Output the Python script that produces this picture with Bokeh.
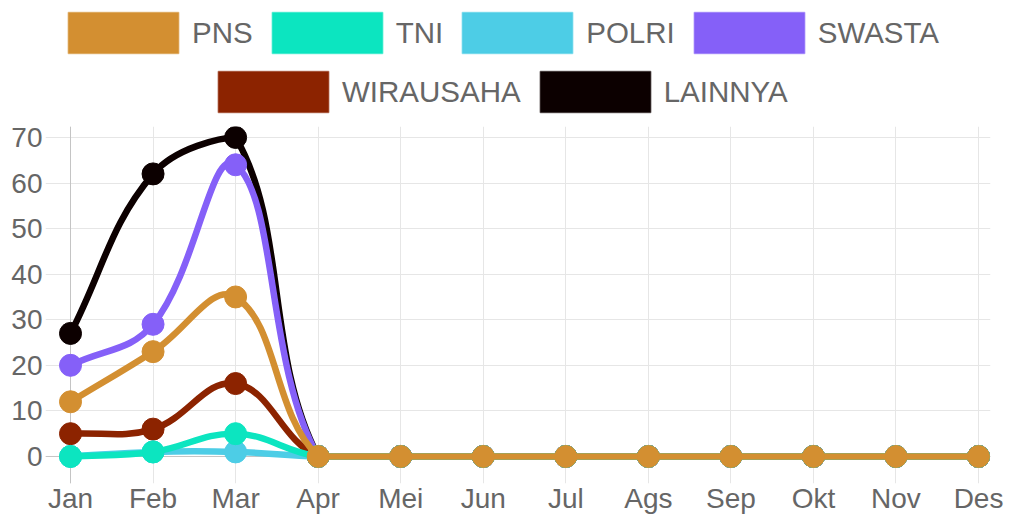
import math
from bokeh.plotting import figure
from bokeh.layouts import column
from bokeh.models import (Range1d, FixedTicker, SingleIntervalTicker, Legend,
                          LegendItem, Span)
from bokeh.embed import file_html
from bokeh.resources import INLINE

# ---------------- data ----------------
months = ["Jan", "Feb", "Mar", "Apr", "Mei", "Jun", "Jul", "Ags", "Sep", "Okt", "Nov", "Des"]
series_names = ["PNS", "TNI", "POLRI", "SWASTA", "WIRAUSAHA", "LAINNYA"]
pns = [12, 23, 35, 0, 0, 0, 0, 0, 0, 0, 0, 0]
tni = [0, 1, 5, 0, 0, 0, 0, 0, 0, 0, 0, 0]
polri = [0, 1, 1, 0, 0, 0, 0, 0, 0, 0, 0, 0]
swasta = [20, 29, 64, 0, 0, 0, 0, 0, 0, 0, 0, 0]
wirausaha = [5, 6, 16, 0, 0, 0, 0, 0, 0, 0, 0, 0]
lainnya = [27, 62, 70, 0, 0, 0, 0, 0, 0, 0, 0, 0]
colors = ["#d38f31", "#0ce5c0", "#4dcde6", "#8560f8", "#8c2300", "#0c0000"]
values = [pns, tni, polri, swasta, wirausaha, lainnya]

FONT = "Liberation Sans"
TXT = "#666666"
W, H = 1009, 520

# approximate pixel scale (for Chart.js-like spline tension)
SX, SY = 82.55, 4.553
YMIN, YMAX = 0, 70
XMIN, XMAX = 0, len(months) - 1


def spline_segments(ys, t=0.4):
    n = len(ys)
    pts = [(i * SX, y * SY) for i, y in enumerate(ys)]
    cps = []
    for i in range(n):
        prev = pts[i - 1] if i > 0 else pts[i]
        cur = pts[i]
        nxt = pts[i + 1] if i < n - 1 else pts[i]
        d01 = math.hypot(cur[0] - prev[0], cur[1] - prev[1])
        d12 = math.hypot(nxt[0] - cur[0], nxt[1] - cur[1])
        tot = d01 + d12
        s01 = d01 / tot if tot else 0
        s12 = d12 / tot if tot else 0
        fa, fb = t * s01, t * s12
        cp_prev = (cur[0] - fa * (nxt[0] - prev[0]), cur[1] - fa * (nxt[1] - prev[1]))
        cp_next = (cur[0] + fb * (nxt[0] - prev[0]), cur[1] + fb * (nxt[1] - prev[1]))

        def cap(p):
            x = min(max(p[0] / SX, XMIN), XMAX)
            y = min(max(p[1] / SY, YMIN), YMAX)
            return (x, y)
        cps.append((cap(cp_prev), cap(cp_next)))
    seg = dict(x0=[], y0=[], x1=[], y1=[], cx0=[], cy0=[], cx1=[], cy1=[])
    for i in range(n - 1):
        seg["x0"].append(i); seg["y0"].append(ys[i])
        seg["x1"].append(i + 1); seg["y1"].append(ys[i + 1])
        seg["cx0"].append(cps[i][1][0]); seg["cy0"].append(cps[i][1][1])
        seg["cx1"].append(cps[i + 1][0][0]); seg["cy1"].append(cps[i + 1][0][1])
    return seg


# ---------------- legend strip ----------------
LEG_H = 114
lf = figure(width=W, height=LEG_H, output_backend="svg", toolbar_location=None,
            x_range=Range1d(0, 1), y_range=Range1d(0, 1), min_border=0,
            x_axis_location=None, y_axis_location=None)
lf.grid.visible = False
lf.outline_line_color = None

proxies = {}
for name, col in zip(series_names, colors):
    # zero-area proxy used only for the legend swatch
    proxies[name] = lf.quad(left=[0], right=[0], top=[0], bottom=[0],
                            fill_color=col, line_color=col,
                            line_alpha=0.55, line_width=1.5)


def make_legend(names, loc):
    return Legend(items=[LegendItem(label=n, renderers=[proxies[n]]) for n in names],
                  orientation="horizontal", location=loc,
                  glyph_width=138, glyph_height=51, label_standoff=0,
                  spacing=5, padding=0, margin=0,
                  label_text_font=FONT, label_text_font_size="29.5px",
                  label_text_color=TXT, border_line_color=None,
                  background_fill_alpha=0)


# legend frame is aligned with the chart frame (left edge at x=45)
lf.add_layout(make_legend(series_names[:4], (9, LEG_H - 58)))
lf.add_layout(make_legend(series_names[4:], (159, LEG_H - 117)))

# ---------------- main chart ----------------
p = figure(width=W, height=H - LEG_H, output_backend="svg", toolbar_location=None,
           x_range=Range1d(-0.303, 11.145), y_range=Range1d(-5.93, 72.4),
           min_border_left=45, min_border_right=19, min_border_bottom=37,
           min_border_top=126 - LEG_H)
p.outline_line_color = None
p.background_fill_color = "white"

p.xgrid.grid_line_color = "#e6e6e6"
p.ygrid.grid_line_color = "#e6e6e6"
p.add_layout(Span(location=0, dimension="height", line_color="#c4c4c4", line_width=1, level="underlay"))
p.add_layout(Span(location=0, dimension="width", line_color="#c4c4c4", line_width=1, level="underlay"))

p.xaxis.ticker = FixedTicker(ticks=list(range(len(months))))
p.xaxis.major_label_overrides = {i: m for i, m in enumerate(months)}
p.yaxis.ticker = SingleIntervalTicker(interval=10, num_minor_ticks=0)
for ax in (p.xaxis, p.yaxis):
    ax.axis_line_color = None
    ax.major_tick_line_color = None
    ax.minor_tick_line_color = None
    ax.major_tick_in = 0
    ax.major_tick_out = 0
    ax.major_label_text_font = FONT
    ax.major_label_text_font_size = "28px"
    ax.major_label_text_color = TXT
p.xaxis.major_label_standoff = -1
p.yaxis.major_label_standoff = 3

# first dataset ends up on top
for name, ys, col in reversed(list(zip(series_names, values, colors))):
    seg = spline_segments(ys)
    p.bezier(x0="x0", y0="y0", x1="x1", y1="y1", cx0="cx0", cy0="cy0",
             cx1="cx1", cy1="cy1", source=seg, line_color=col, line_width=6.5)
    p.scatter(list(range(len(months))), ys, size=22, fill_color=col,
              line_color=col, line_width=1)

open("out.html", "w").write(file_html(column(lf, p, spacing=0), INLINE))
